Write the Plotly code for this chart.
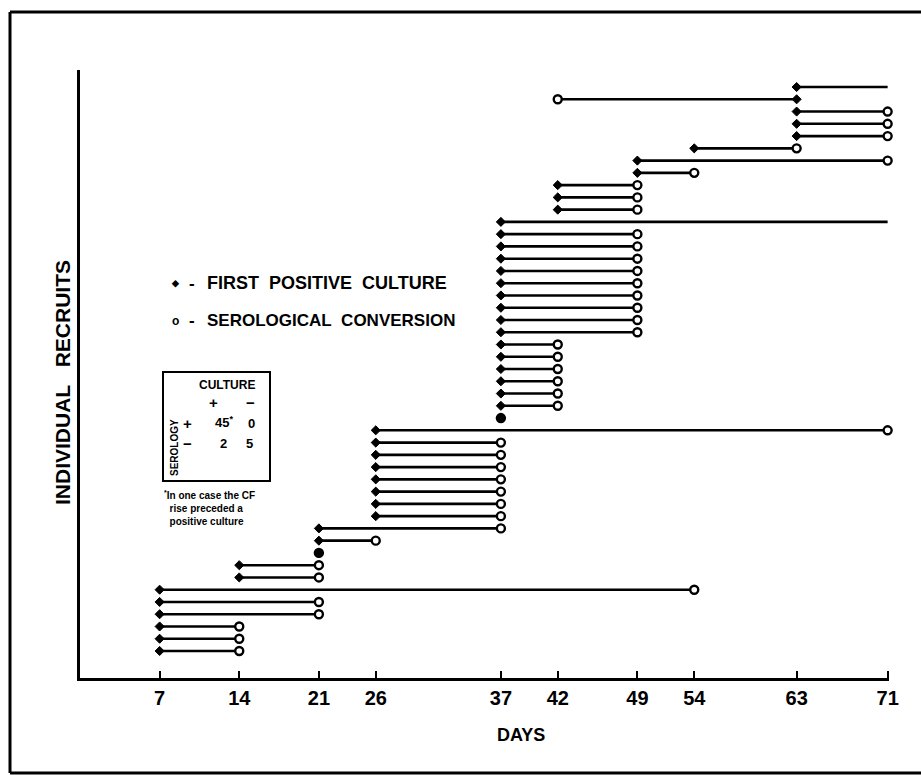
import plotly.graph_objects as go

# ---------------- data (rows listed bottom -> top) ----------------
culture_day = [7, 7, 7, 7, 7, 7, 14, 14, 21, 21, 21,
               26, 26, 26, 26, 26, 26, 26, 26,
               37,
               37, 37, 37, 37, 37, 37,
               37, 37, 37, 37, 37, 37, 37, 37, 37,
               37,
               42, 42, 42,
               49, 49, 54,
               63, 63, 63, 63, 63]
serology_day = [14, 14, 14, 21, 21, 54, 21, 21, 21, 26, 37,
                37, 37, 37, 37, 37, 37, 37, 71,
                37,
                42, 42, 42, 42, 42, 42,
                49, 49, 49, 49, 49, 49, 49, 49, 49,
                None,
                49, 49, 49,
                54, 71, 63,
                71, 71, 71, 42, None]
followup_end = 71
tick_days = [7, 14, 21, 26, 37, 42, 49, 54, 63, 71]
rows = list(range(1, len(culture_day) + 1))

# ---------------- layout geometry (pixels) ----------------
W, H = 921, 775
PL, PR, PT, PB = 80, 889, 70, 678


def px(x):
    return (x - PL) / (PR - PL)


def py(y):
    return (PB - y) / (PB - PT)


# ---------------- traces ----------------
lx, ly = [], []
for r, c, s in zip(rows, culture_day, serology_day):
    a = c if s is None else min(c, s)
    b = followup_end if s is None else max(c, s)
    lx += [a, b, None]
    ly += [r, r, None]

fig = go.Figure()
fig.add_trace(go.Scatter(x=lx, y=ly, mode="lines",
                         line=dict(color="black", width=2.6),
                         hoverinfo="skip", showlegend=False, cliponaxis=False))

sx = [s for s in serology_day if s is not None]
sy = [r for r, s in zip(rows, serology_day) if s is not None]
fig.add_trace(go.Scatter(x=sx, y=sy, mode="markers",
                         marker=dict(symbol="circle", size=8, color="white",
                                     line=dict(color="black", width=2.4)),
                         showlegend=False, cliponaxis=False))
fig.add_trace(go.Scatter(x=culture_day, y=rows, mode="markers",
                         marker=dict(symbol="diamond", size=7, color="black",
                                     line=dict(color="black", width=1)),
                         showlegend=False, cliponaxis=False))

FONT = "Liberation Sans, Arial, sans-serif"
BF = dict(family=FONT, color="black", weight="bold")

fig.update_layout(
    width=W, height=H,
    margin=dict(l=PL, r=W - PR, t=PT, b=H - PB),
    paper_bgcolor="white", plot_bgcolor="white",
    xaxis=dict(range=[0, (PR - PL) / 11.375], tickvals=tick_days,
               ticktext=[str(t) for t in tick_days],
               ticks="inside", ticklen=7, tickwidth=2, tickcolor="black",
               showline=True, linecolor="black", linewidth=3,
               showgrid=False, zeroline=False,
               tickfont=dict(size=20, **BF), ticklabelstandoff=0),
    yaxis=dict(range=[-1.202, 48.39], showticklabels=False, ticks="",
               showline=True, linecolor="black", linewidth=2.5,
               showgrid=False, zeroline=False),
)

ann = []


def text(x, y, t, size, **kw):
    d = dict(x=px(x), y=py(y), xref="paper", yref="paper", text=t,
             showarrow=False, font=dict(size=size, **BF),
             xanchor="center", yanchor="middle")
    d.update(kw)
    ann.append(d)


text(521, 735, "DAYS", 18)
text(62, 383, "INDIVIDUAL&nbsp;&nbsp;&nbsp;RECRUITS", 21, textangle=-90)
text(175, 283, "◆", 9)
text(192, 283, "-", 17)
text(205, 283, "FIRST&nbsp;&nbsp;POSITIVE&nbsp;&nbsp;CULTURE", 18, xanchor="left")
text(175, 321, "o", 12)
text(192, 320, "-", 17)
text(205, 320, "SEROLOGICAL&nbsp;&nbsp;CONVERSION", 17, xanchor="left")

# inset table
text(227, 385, "CULTURE", 12)
text(213, 402, "+", 15)
text(250, 402, "−", 15)
text(187, 423, "+", 15)
text(224, 422, "45<sup>*</sup>", 13)
text(251, 423, "0", 13)
text(187, 443, "−", 15)
text(223, 443, "2", 13)
text(249, 443, "5", 13)
text(174, 448, "SEROLOGY", 10, textangle=-90)
text(162, 508, "<sup>*</sup>In one case the CF<br>  rise preceded a<br>  positive culture", 10,
     xanchor="left", align="left")
fig.update_layout(annotations=ann)

shapes = [
    dict(type="rect", xref="paper", yref="paper",
         x0=px(163), x1=px(270), y0=py(372), y1=py(481),
         line=dict(color="black", width=2)),
    # page frame
    dict(type="line", xref="paper", yref="paper", x0=px(10), x1=px(10),
         y0=py(12), y1=py(773), line=dict(color="black", width=3)),
    dict(type="line", xref="paper", yref="paper", x0=px(10), x1=px(921),
         y0=py(12), y1=py(12), line=dict(color="black", width=3)),
    dict(type="line", xref="paper", yref="paper", x0=px(10), x1=px(921),
         y0=py(773), y1=py(773), line=dict(color="black", width=3)),
]
fig.update_layout(shapes=shapes)

fig.write_html("out.html")
